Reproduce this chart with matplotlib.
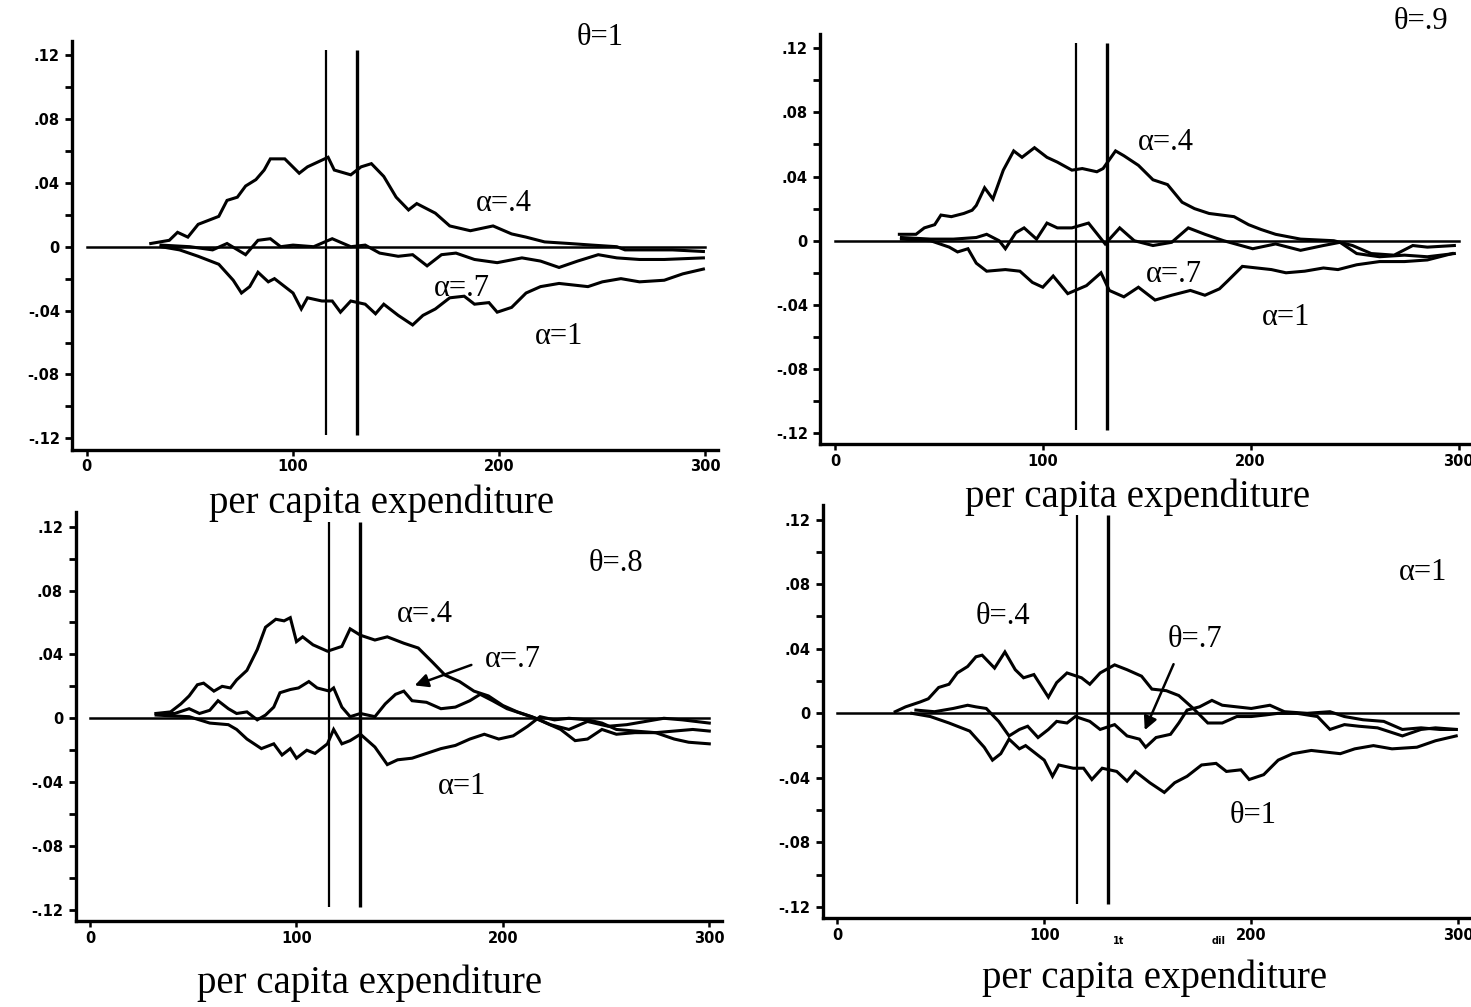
import matplotlib
matplotlib.use('Agg')
import matplotlib.pyplot as plt

# poverty lines and common ticks
pov_lines = [116, 131]
xticks = [0, 100, 200, 300]
xtick_labels = ['0', '100', '200', '300']
yticks_major = [-0.12, -0.08, -0.04, 0, 0.04, 0.08, 0.12]
ytick_labels = ['-.12', '-.08', '-.04', '0', '.04', '.08', '.12']
yticks_minor = [-0.10, -0.06, -0.02, 0.02, 0.06, 0.10]
xlabel = 'per capita expenditure'

# theta=1 / alpha=1 curve (shared by panel 1 and panel 4)
a1t1_x = [36, 45, 54, 64, 71, 75, 79, 83, 88, 91, 96, 100, 104, 107, 114, 119, 123, 128, 135,
          140, 144, 151, 158, 163, 169, 176, 183, 188, 195, 199, 206, 213, 220, 229, 243, 250,
          259, 268, 280, 289, 299]
a1t1_y = [0.000, -0.002, -0.006, -0.011, -0.021, -0.029, -0.025, -0.016, -0.022, -0.020, -0.025,
          -0.029, -0.039, -0.032, -0.034, -0.034, -0.041, -0.034, -0.036, -0.042, -0.036, -0.043,
          -0.049, -0.043, -0.039, -0.032, -0.031, -0.036, -0.035, -0.041, -0.038, -0.029, -0.025,
          -0.023, -0.025, -0.022, -0.020, -0.022, -0.021, -0.017, -0.014]

# panel 1: theta=1
p1_a4_x = [31, 40, 44, 49, 54, 64, 68, 73, 77, 82, 86, 89, 96, 103, 107, 117, 120, 128, 133, 138,
           144, 150, 156, 160, 169, 176, 186, 197, 206, 213, 222, 234, 245, 257, 261, 275, 284, 299]
p1_a4_y = [0.002, 0.004, 0.009, 0.006, 0.014, 0.019, 0.029, 0.031, 0.038, 0.042, 0.048, 0.055,
           0.055, 0.046, 0.050, 0.056, 0.048, 0.045, 0.050, 0.052, 0.044, 0.031, 0.023, 0.027,
           0.021, 0.013, 0.010, 0.013, 0.008, 0.006, 0.003, 0.002, 0.001, 0.000, -0.002, -0.002,
           -0.002, -0.003]
p1_a7_x = [36, 50, 61, 68, 77, 83, 89, 94, 100, 110, 119, 128, 135, 142, 151, 158, 165, 172, 179,
           188, 199, 211, 220, 229, 238, 248, 257, 268, 280, 299]
p1_a7_y = [0.001, 0.000, -0.002, 0.002, -0.005, 0.004, 0.005, 0.000, 0.001, 0.000, 0.005, 0.000,
           0.001, -0.004, -0.006, -0.005, -0.012, -0.005, -0.004, -0.008, -0.010, -0.007, -0.009,
           -0.013, -0.009, -0.005, -0.007, -0.008, -0.008, -0.007]

# panel 2: theta=.9
p2_a4_x = [31, 39, 43, 48, 51, 56, 62, 66, 68, 72, 76, 81, 86, 90, 96, 102, 107, 114, 119, 126,
           129, 135, 139, 146, 153, 160, 167, 173, 180, 192, 199, 205, 212, 224, 240, 249, 258,
           269, 278, 285, 298]
p2_a4_y = [0.004, 0.004, 0.008, 0.010, 0.016, 0.015, 0.017, 0.019, 0.022, 0.033, 0.026, 0.044,
           0.056, 0.052, 0.058, 0.052, 0.049, 0.044, 0.045, 0.043, 0.045, 0.056, 0.053, 0.047,
           0.038, 0.035, 0.024, 0.020, 0.017, 0.015, 0.010, 0.007, 0.004, 0.001, 0.000, -0.003,
           -0.008, -0.009, -0.003, -0.004, -0.003]
p2_a7_x = [32, 46, 57, 68, 73, 79, 82, 87, 91, 97, 102, 107, 114, 122, 130, 137, 144, 153, 162,
           170, 178, 187, 201, 212, 224, 235, 243, 251, 262, 274, 285, 298]
p2_a7_y = [0.002, 0.001, 0.001, 0.002, 0.004, 0.000, -0.005, 0.005, 0.008, 0.001, 0.011, 0.008,
           0.008, 0.011, -0.002, 0.008, 0.000, -0.003, -0.001, 0.008, 0.004, 0.000, -0.005,
           -0.002, -0.006, -0.003, -0.001, -0.008, -0.010, -0.009, -0.010, -0.008]
p2_a1_x = [32, 46, 55, 59, 64, 68, 73, 82, 89, 95, 100, 105, 112, 121, 128, 132, 139, 146, 154,
           162, 171, 178, 185, 189, 196, 203, 210, 217, 226, 235, 242, 251, 262, 274, 285, 297]
p2_a1_y = [0.001, 0.000, -0.004, -0.007, -0.005, -0.014, -0.019, -0.018, -0.019, -0.026, -0.029,
           -0.022, -0.033, -0.028, -0.020, -0.031, -0.035, -0.029, -0.037, -0.034, -0.031, -0.034,
           -0.030, -0.025, -0.016, -0.017, -0.018, -0.020, -0.019, -0.017, -0.018, -0.015, -0.013,
           -0.013, -0.012, -0.008]

# panel 3: theta=.8
p3_a4_x = [32, 39, 44, 48, 52, 55, 60, 64, 68, 71, 76, 81, 85, 90, 94, 97, 100, 103, 108, 115,
           122, 126, 131, 138, 144, 152, 159, 166, 172, 179, 186, 193, 200, 207, 214, 221, 228,
           235, 241, 248, 255, 264, 274, 283, 290, 300]
p3_a4_y = [0.003, 0.004, 0.009, 0.014, 0.021, 0.022, 0.017, 0.020, 0.019, 0.024, 0.030, 0.043,
           0.057, 0.062, 0.061, 0.063, 0.048, 0.051, 0.046, 0.042, 0.045, 0.056, 0.052, 0.049,
           0.051, 0.047, 0.044, 0.035, 0.027, 0.023, 0.017, 0.014, 0.008, 0.004, 0.001, -0.003,
           -0.007, -0.014, -0.013, -0.007, -0.010, -0.009, -0.009, -0.013, -0.015, -0.016]
p3_a7_x = [32, 41, 48, 53, 58, 62, 67, 71, 76, 81, 85, 89, 92, 97, 101, 106, 110, 116, 118, 122,
           126, 131, 138, 143, 148, 152, 156, 163, 170, 177, 184, 189, 195, 202, 209, 216, 223,
           232, 241, 251, 260, 269, 278, 287, 300]
p3_a7_y = [0.003, 0.003, 0.006, 0.003, 0.005, 0.011, 0.006, 0.003, 0.004, -0.001, 0.002, 0.007,
           0.016, 0.018, 0.019, 0.023, 0.019, 0.017, 0.019, 0.007, 0.001, 0.003, 0.001, 0.009,
           0.015, 0.017, 0.011, 0.010, 0.006, 0.007, 0.011, 0.015, 0.011, 0.006, 0.003, 0.000,
           -0.004, -0.007, -0.002, -0.005, -0.004, -0.002, 0.000, -0.001, -0.003]
p3_a1_x = [32, 48, 58, 67, 71, 76, 83, 89, 93, 97, 100, 105, 109, 115, 118, 122, 126, 131, 138,
           144, 149, 156, 163, 170, 177, 184, 191, 198, 205, 212, 218, 225, 232, 241, 248, 255,
           264, 274, 283, 292, 300]
p3_a1_y = [0.002, 0.001, -0.003, -0.004, -0.007, -0.013, -0.019, -0.016, -0.023, -0.019, -0.025,
           -0.020, -0.022, -0.016, -0.007, -0.016, -0.014, -0.010, -0.018, -0.029, -0.026, -0.025,
           -0.022, -0.019, -0.017, -0.013, -0.010, -0.013, -0.011, -0.005, 0.001, -0.001, 0.000,
           -0.001, -0.003, -0.007, -0.008, -0.009, -0.008, -0.007, -0.008]

# panel 4: alpha=1
p4_t4_x = [28, 33, 40, 44, 49, 54, 58, 63, 67, 70, 76, 81, 86, 90, 95, 99, 102, 106, 111, 118,
           122, 127, 134, 140, 147, 152, 159, 165, 172, 179, 186, 193, 200, 207, 213, 222, 232,
           238, 245, 252, 261, 273, 282, 289, 299]
p4_t4_y = [0.001, 0.004, 0.007, 0.009, 0.016, 0.018, 0.025, 0.029, 0.035, 0.036, 0.028, 0.038,
           0.027, 0.022, 0.024, 0.016, 0.010, 0.019, 0.025, 0.022, 0.018, 0.025, 0.030, 0.027,
           0.023, 0.015, 0.014, 0.011, 0.003, -0.006, -0.006, -0.002, -0.002, -0.001, 0.000,
           0.000, -0.002, -0.010, -0.007, -0.008, -0.009, -0.014, -0.010, -0.009, -0.010]
p4_t7_x = [38, 47, 56, 63, 67, 72, 78, 83, 88, 92, 97, 102, 106, 111, 115, 122, 127, 134, 140,
           146, 149, 154, 161, 165, 169, 175, 181, 186, 193, 200, 209, 216, 227, 238, 245, 254,
           264, 273, 282, 291, 299]
p4_t7_y = [0.002, 0.001, 0.003, 0.005, 0.004, 0.003, -0.005, -0.014, -0.010, -0.008, -0.015,
           -0.010, -0.005, -0.006, -0.002, -0.005, -0.010, -0.007, -0.014, -0.016, -0.021, -0.015,
           -0.013, -0.006, 0.002, 0.004, 0.008, 0.005, 0.004, 0.003, 0.005, 0.001, 0.000, 0.001,
           -0.002, -0.004, -0.005, -0.010, -0.009, -0.010, -0.010]

panels = [
    {'rect': [0.0492, 0.5536, 0.4388, 0.4060],
     'curves': [(p1_a4_x, p1_a4_y), (p1_a7_x, p1_a7_y), (a1t1_x, a1t1_y)],
     'labels': [('\u03b8=1', 249, 0.131), ('\u03b1=.4', 202, 0.027),
                ('\u03b1=.7', 182, -0.026), ('\u03b1=1', 229, -0.056)],
     'arrow': None, 'xlab': (382, 503)},
    {'rect': [0.5577, 0.5587, 0.4423, 0.4077],
     'curves': [(p2_a4_x, p2_a4_y), (p2_a7_x, p2_a7_y), (p2_a1_x, p2_a1_y)],
     'labels': [('\u03b8=.9', 282, 0.137), ('\u03b1=.4', 159, 0.061),
                ('\u03b1=.7', 163, -0.021), ('\u03b1=1', 217, -0.048)],
     'arrow': None, 'xlab': (1138, 497)},
    {'rect': [0.0514, 0.0853, 0.4392, 0.4060],
     'curves': [(p3_a4_x, p3_a4_y), (p3_a7_x, p3_a7_y), (p3_a1_x, p3_a1_y)],
     'labels': [('\u03b8=.8', 255, 0.097), ('\u03b1=.4', 162, 0.065),
                ('\u03b1=.7', 205, 0.037), ('\u03b1=1', 180, -0.043)],
     'arrow': ((186, 0.034), (156, 0.020)), 'xlab': (370, 983)},
    {'rect': [0.5593, 0.0880, 0.4405, 0.4105],
     'curves': [(p4_t4_x, p4_t4_y), (p4_t7_x, p4_t7_y), (a1t1_x, a1t1_y)],
     'labels': [('\u03b1=1', 283, 0.087), ('\u03b8=.4', 80, 0.060),
                ('\u03b8=.7', 173, 0.046), ('\u03b8=1', 201, -0.063)],
     'arrow': ((163, 0.032), (148, -0.012)), 'xlab': (1155, 978)},
]

fig = plt.figure(figsize=(14.71, 10.07), dpi=100)
serif = 'Liberation Serif'

for p in panels:
    ax = fig.add_axes(p['rect'])
    ax.set_xlim(-7, 306)
    ax.set_ylim(-0.127, 0.129)
    for s in ['top', 'right']:
        ax.spines[s].set_visible(False)
    for s in ['left', 'bottom']:
        ax.spines[s].set_linewidth(2.4)
    ax.set_xticks(xticks)
    ax.set_xticklabels(xtick_labels)
    ax.set_yticks(yticks_major)
    ax.set_yticklabels(ytick_labels)
    ax.set_yticks(yticks_minor, minor=True)
    ax.tick_params(axis='y', which='both', direction='out', length=5, width=2, pad=4)
    ax.tick_params(axis='x', direction='out', length=4, width=1.8, pad=3)
    for lab in ax.get_xticklabels() + ax.get_yticklabels():
        lab.set_fontfamily('DejaVu Sans')
        lab.set_fontweight('bold')
        lab.set_fontsize(10.5)

    ax.plot([0, 300], [0, 0], color='black', lw=1.8)
    ax.vlines(pov_lines[0], -0.118, 0.123, color='black', lw=1.6)
    ax.vlines(pov_lines[1], -0.118, 0.123, color='black', lw=2.4)
    for cx, cy in p['curves']:
        ax.plot(cx, cy, color='black', lw=2.2, solid_joinstyle='miter')

    for txt, tx, ty in p['labels']:
        ax.text(tx, ty, txt, family=serif, fontsize=22, ha='center', va='center',
                clip_on=False)
    if p['arrow'] is not None:
        (x0, y0), (x1, y1) = p['arrow']
        ax.annotate('', xy=(x1, y1), xytext=(x0, y0),
                    arrowprops=dict(arrowstyle='-|>', color='black', lw=1.8,
                                    mutation_scale=20))
    fx, fy = p['xlab']
    fig.text(fx / 1471, 1 - fy / 1007, xlabel, family=serif, fontsize=28,
             ha='center', va='center')

# stray marks under the last panel
ax.text(136, -0.141, '1t', family='DejaVu Sans', fontweight='bold', fontsize=7,
        ha='center', va='center', clip_on=False)
ax.text(184, -0.141, 'dil', family='DejaVu Sans', fontweight='bold', fontsize=7,
        ha='center', va='center', clip_on=False)

fig.savefig('out.png', dpi=100, facecolor='white')
